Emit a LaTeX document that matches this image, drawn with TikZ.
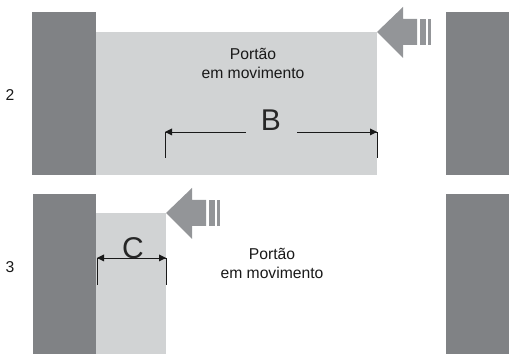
\documentclass[tikz,border=0pt]{standalone}
\usepackage{fontspec}
\setmainfont{Liberation Sans}
\definecolor{wall}{HTML}{808285}
\definecolor{gate}{HTML}{D1D3D4}
\definecolor{push}{HTML}{939598}
\tikzset{
  txt/.style={inner sep=0pt,font=\fontsize{15.7}{18}\selectfont,align=center,text=black!90},
  big/.style={inner sep=0pt,font=\fontsize{30}{30}\selectfont,text=black!85},
  dim/.style={line width=0.8pt,draw=black!90},
  tip/.style={fill=black!90}
}
\newcommand{\pusharrow}[2]{%
  \begin{scope}[shift={(#1,#2)}]
    \fill[push] (0,0) -- (26,-25) -- (26,-13) -- (40,-13) -- (40,13) -- (26,13) -- (26,26) -- cycle;
    \fill[push] (43,-13) rectangle (49,13);
    \fill[push] (51,-13) rectangle (54,13);
  \end{scope}}
\newcommand{\dimtip}[3]{\fill[tip] (#1,#2) -- ++(#3*7,3.5) -- ++(0,-7) -- cycle;}
\begin{document}
\begin{tikzpicture}[x=1pt,y=-1pt]
\useasboundingbox (0,0) rectangle (509,355);
% upper panel
\fill[gate] (96,32) rectangle (377,175);
\fill[wall] (32,12) rectangle (96,175);
\fill[wall] (446,12) rectangle (509,175);
\pusharrow{377}{32}
\node[txt] (p1) at (253,54) {Portão};
\node[txt] (m1) at (253,73) {em movimento};
\node[txt] (n2) at (10,95) {2};
\node[big] (B) at (271,120) {B};
\draw[dim] (165,158) -- (165,132) -- (246,132);
\draw[dim] (297,132) -- (377,132) -- (377,158);
\dimtip{165}{132}{1}
\dimtip{377}{132}{-1}
% lower panel
\fill[gate] (96,213) rectangle (166,354);
\fill[wall] (33,194) rectangle (96,354);
\fill[wall] (446,194) rectangle (509,354);
\pusharrow{166}{213}
\node[txt] (p2) at (272,254) {Portão};
\node[txt] (m2) at (272,273) {em movimento};
\node[txt] (n3) at (10,267) {3};
\draw[dim] (97,285) -- (97,258) -- (166,258) -- (166,285);
\dimtip{97}{258}{1}
\dimtip{166}{258}{-1}
\node[big] (C) at (133,248) {C};
\end{tikzpicture}
\end{document}
